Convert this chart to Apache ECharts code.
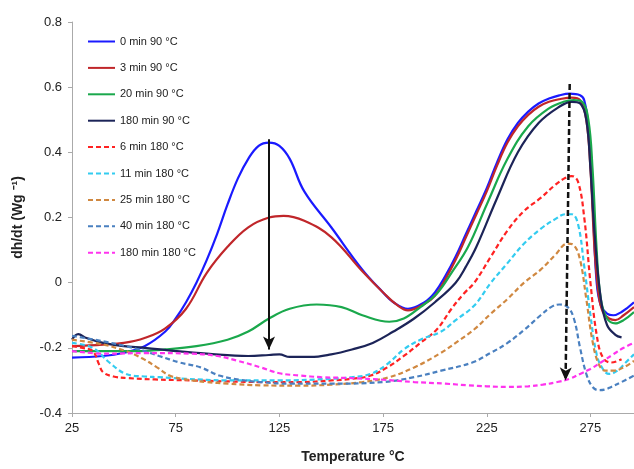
<!DOCTYPE html>
<html>
<head>
<meta charset="utf-8">
<script src="https://cdn.jsdelivr.net/npm/echarts@6/dist/echarts.min.js"></script>
<style>
html, body { margin: 0; padding: 0; background: #fff; }
#chart { width: 634px; height: 469px; }
</style>
</head>
<body>
<div id="chart"></div>
<script>
// tick labels
var xTicks = [25, 75, 125, 175, 225, 275];

// 0 min 90 °C
var t0 = [25, 40, 50, 60, 70, 75, 80, 85, 90, 95, 100, 105, 110, 115, 120, 125, 130, 137, 150, 165, 175, 180, 187, 195, 200, 205, 210, 215, 220, 225, 230, 235, 240, 245, 250, 255, 260, 265, 270, 272, 274, 276, 278, 280, 283, 286, 290, 296];
var v0 = [-0.23, -0.225, -0.215, -0.195, -0.15, -0.11, -0.06, 0.0, 0.07, 0.15, 0.24, 0.32, 0.38, 0.42, 0.43, 0.42, 0.38, 0.28, 0.17, 0.04, -0.03, -0.06, -0.08, -0.06, -0.03, 0.02, 0.08, 0.15, 0.22, 0.29, 0.37, 0.44, 0.49, 0.525, 0.55, 0.565, 0.575, 0.58, 0.575, 0.56, 0.48, 0.25, 0.0, -0.07, -0.095, -0.1, -0.09, -0.06];

// 3 min 90 °C
var t3 = [25, 40, 50, 60, 70, 80, 90, 100, 110, 120, 127, 137, 150, 165, 175, 182, 187, 195, 200, 205, 210, 215, 220, 225, 230, 235, 240, 245, 250, 255, 260, 266, 270, 273, 275, 277, 279, 281, 284, 287, 291, 296];
var v3 = [-0.195, -0.19, -0.185, -0.17, -0.14, -0.08, 0.03, 0.11, 0.17, 0.2, 0.205, 0.19, 0.14, 0.035, -0.03, -0.07, -0.085, -0.065, -0.04, 0.01, 0.07, 0.14, 0.21, 0.28, 0.36, 0.43, 0.48, 0.515, 0.54, 0.555, 0.563, 0.568, 0.56, 0.5, 0.35, 0.1, -0.04, -0.09, -0.11, -0.115, -0.1, -0.075];

// 20 min 90 °C
var t20 = [25, 40, 55, 70, 85, 100, 110, 120, 130, 143, 155, 165, 178, 185, 193, 201, 208, 216, 225, 235, 245, 255, 262, 267, 271, 274, 276, 278, 280, 283, 287, 291, 296];
var v20 = [-0.21, -0.21, -0.21, -0.205, -0.195, -0.175, -0.15, -0.11, -0.08, -0.067, -0.075, -0.1, -0.12, -0.11, -0.075, -0.033, 0.03, 0.11, 0.24, 0.38, 0.48, 0.535, 0.555, 0.56, 0.555, 0.5, 0.35, 0.1, -0.05, -0.11, -0.125, -0.115, -0.09];

// 180 min 90 °C
var t180 = [25, 28, 32, 40, 50, 60, 75, 90, 110, 120, 125, 130, 140, 150, 160, 170, 180, 190, 200, 210, 215, 220, 230, 240, 250, 260, 266, 270, 273, 275, 277, 280, 283, 287, 290];
var v180 = [-0.175, -0.158, -0.17, -0.185, -0.195, -0.2, -0.21, -0.218, -0.225, -0.222, -0.22, -0.228, -0.228, -0.22, -0.205, -0.185, -0.15, -0.11, -0.06, 0.0, 0.05, 0.11, 0.26, 0.4, 0.49, 0.54, 0.555, 0.55, 0.5, 0.35, 0.15, -0.05, -0.13, -0.16, -0.168];

// 6 min 180 °C
var d6 = [25, 30, 35, 38, 40, 45, 52, 65, 83, 100, 116, 135, 150, 160, 169, 177, 185, 193, 201, 208, 214, 219, 227, 235, 243, 251, 258, 263, 266, 269, 272, 275, 278, 281, 285, 290];
var w6 = [-0.195, -0.2, -0.21, -0.25, -0.275, -0.288, -0.293, -0.297, -0.3, -0.303, -0.305, -0.305, -0.3, -0.295, -0.285, -0.26, -0.225, -0.185, -0.143, -0.08, -0.033, 0.0, 0.08, 0.16, 0.22, 0.26, 0.3, 0.322, 0.327, 0.31, 0.2, 0.0, -0.16, -0.23, -0.245, -0.235];

// 11 min 180 °C
var d11 = [25, 35, 43, 51, 60, 67, 80, 100, 125, 150, 160, 169, 177, 185, 193, 203, 210, 219, 227, 235, 243, 251, 258, 263, 266, 269, 272, 275, 278, 281, 284, 288, 292, 296];
var w11 = [-0.185, -0.2, -0.245, -0.28, -0.288, -0.29, -0.295, -0.3, -0.3, -0.295, -0.29, -0.28, -0.25, -0.205, -0.175, -0.15, -0.115, -0.07, 0.0, 0.06, 0.12, 0.165, 0.195, 0.21, 0.21, 0.18, 0.05, -0.1, -0.22, -0.265, -0.28, -0.27, -0.245, -0.22];

// 25 min 180 °C
var d25 = [25, 40, 51, 59, 66, 72, 78, 83, 90, 100, 116, 135, 150, 165, 178, 190, 203, 211, 219, 227, 235, 243, 251, 258, 264, 267, 270, 273, 276, 279, 282, 286, 291, 296];
var w25 = [-0.175, -0.19, -0.21, -0.233, -0.26, -0.285, -0.295, -0.3, -0.305, -0.31, -0.315, -0.316, -0.313, -0.305, -0.29, -0.26, -0.215, -0.18, -0.143, -0.095, -0.05, 0.0, 0.04, 0.085, 0.12, 0.115, 0.07, -0.05, -0.18, -0.25, -0.27, -0.27, -0.26, -0.24];

// 40 min 180 °C
var d40 = [25, 40, 51, 60, 67, 77, 87, 96, 106, 116, 130, 150, 175, 190, 203, 218, 227, 235, 243, 251, 256, 260, 264, 267, 270, 273, 276, 279, 282, 285, 290, 296];
var w40 = [-0.163, -0.18, -0.195, -0.21, -0.225, -0.245, -0.26, -0.285, -0.298, -0.305, -0.31, -0.31, -0.305, -0.29, -0.27, -0.245, -0.215, -0.185, -0.145, -0.1, -0.075, -0.067, -0.075, -0.11, -0.2, -0.28, -0.32, -0.33, -0.328, -0.32, -0.305, -0.285];

// 180 min 180 °C
var d180 = [25, 42, 60, 83, 95, 105, 116, 125, 135, 145, 160, 175, 190, 205, 216, 225, 235, 245, 252, 259, 265, 270, 275, 280, 286, 291, 296];
var w180 = [-0.21, -0.218, -0.216, -0.218, -0.225, -0.24, -0.26, -0.278, -0.285, -0.29, -0.293, -0.298, -0.305, -0.31, -0.315, -0.318, -0.32, -0.318, -0.313, -0.305, -0.295, -0.28, -0.265, -0.245, -0.22, -0.2, -0.185];

// solid arrow (isothermal at 90 °C) and dashed arrow (at 180 °C)
var arrowSolid = [[120, 0.44], [120, -0.205]];
var arrowDashed = [[265, 0.61], [263, -0.3]];

function pairs(xs, ys) {
    return xs.map(function (x, i) { return [x, ys[i]]; });
}

var FONT = '"Liberation Sans", Arial, sans-serif';

var defs = [
    { name: '0 min 90 °C', x: t0, y: v0, color: '#1a1aff', type: 'solid' },
    { name: '3 min 90 °C', x: t3, y: v3, color: '#c0262a', type: 'solid' },
    { name: '20 min 90 °C', x: t20, y: v20, color: '#1aa84c', type: 'solid' },
    { name: '180 min 90 °C', x: t180, y: v180, color: '#1c2458', type: 'solid' },
    { name: '6 min 180 °C', x: d6, y: w6, color: '#ff2222', type: 'dashed' },
    { name: '11 min 180 °C', x: d11, y: w11, color: '#33ccf0', type: 'dashed' },
    { name: '25 min 180 °C', x: d25, y: w25, color: '#d08840', type: 'dashed' },
    { name: '40 min 180 °C', x: d40, y: w40, color: '#4a80c0', type: 'dashed' },
    { name: '180 min 180 °C', x: d180, y: w180, color: '#ff33ee', type: 'dashed' }
];

var series = defs.map(function (d) {
    return {
        name: d.name,
        type: 'line',
        smooth: 0.4,
        symbol: 'none',
        color: d.color,
        lineStyle: { width: 2.2, type: d.type === 'dashed' ? [5, 3] : 'solid' },
        data: pairs(d.x, d.y),
        z: 2
    };
});

// arrows
series.push({
    type: 'line',
    symbol: 'none',
    silent: true,
    data: [],
    markLine: {
        silent: true,
        symbol: ['none', 'arrow'],
        symbolSize: [9, 13],
        label: { show: false },
        data: [
            [{ coord: arrowSolid[0], lineStyle: { color: '#111', width: 2, type: 'solid' } }, { coord: arrowSolid[1] }],
            [{ coord: arrowDashed[0], lineStyle: { color: '#111', width: 2.5, type: [6, 3] } }, { coord: arrowDashed[1] }]
        ]
    },
    z: 5
});

var chart = echarts.init(document.getElementById('chart'));
chart.setOption({
    animation: false,
    backgroundColor: '#fff',
    textStyle: { fontFamily: FONT },
    grid: { left: 72, right: 0, top: 22, bottom: 51 },
    legend: {
        orient: 'vertical',
        left: 82,
        top: 31,
        itemWidth: 27,
        itemHeight: 12,
        itemGap: 15.4,
        itemStyle: { opacity: 0 },
        data: defs.map(function (d) { return d.name; }),
        textStyle: { fontFamily: FONT, fontSize: 11, color: '#222' }
    },
    xAxis: {
        type: 'value',
        min: 25,
        max: 296,
        name: 'Temperature °C',
        nameLocation: 'middle',
        nameGap: 37,
        nameTextStyle: { fontFamily: FONT, fontSize: 14, fontWeight: 'bold', color: '#222' },
        axisLine: { onZero: false, lineStyle: { color: '#aaa', width: 1 } },
        axisTick: { show: true, length: 4, customValues: xTicks, lineStyle: { color: '#aaa' } },
        axisLabel: { customValues: xTicks, fontSize: 13, color: '#222', margin: 9 },
        splitLine: { show: false }
    },
    yAxis: {
        type: 'value',
        min: -0.4,
        max: 0.8,
        interval: 0.2,
        name: 'dh/dt (Wg ⁻¹)',
        nameLocation: 'middle',
        nameGap: 47,
        nameTextStyle: { fontFamily: FONT, fontSize: 14, fontWeight: 'bold', color: '#222' },
        axisLine: { show: true, lineStyle: { color: '#aaa', width: 1 } },
        axisTick: { show: true, length: 4, lineStyle: { color: '#aaa' } },
        axisLabel: {
            fontSize: 13, color: '#222', margin: 10,
            formatter: function (v) { return String(Math.round(v * 10) / 10); }
        },
        splitLine: { show: false }
    },
    series: series
});
</script>
</body>
</html>
